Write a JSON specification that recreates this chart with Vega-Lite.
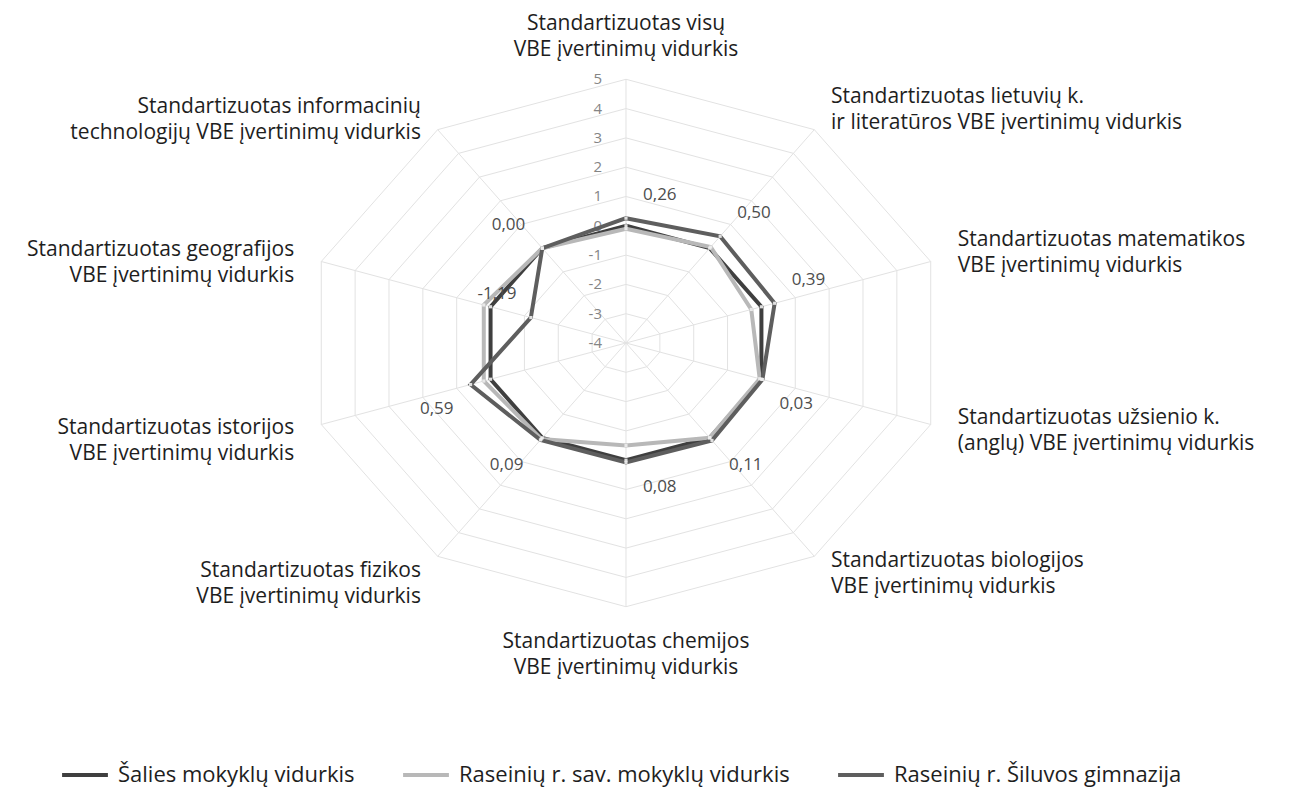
{
  "$schema": "https://vega.github.io/schema/vega-lite/v6.json",
  "width": 1301,
  "height": 794,
  "autosize": {"type": "none"},
  "padding": 0,
  "background": "white",
  "config": {
    "view": {"stroke": null},
    "font": "Open Sans",
    "locale": {"number": {"decimal": ",", "thousands": " ", "grouping": [3], "currency": ["", ""], "minus": "-"}}
  },
  "datasets": {
    "scores": [
      {"subject": "Standartizuotas visų\nVBE įvertinimų vidurkis", "series": "Šalies mokyklų vidurkis", "value": 0},
      {"subject": "Standartizuotas lietuvių k.\nir literatūros VBE įvertinimų vidurkis", "series": "Šalies mokyklų vidurkis", "value": 0},
      {"subject": "Standartizuotas matematikos\nVBE įvertinimų vidurkis", "series": "Šalies mokyklų vidurkis", "value": 0},
      {"subject": "Standartizuotas užsienio k.\n(anglų) VBE įvertinimų vidurkis", "series": "Šalies mokyklų vidurkis", "value": 0},
      {"subject": "Standartizuotas biologijos\nVBE įvertinimų vidurkis", "series": "Šalies mokyklų vidurkis", "value": 0},
      {"subject": "Standartizuotas chemijos\nVBE įvertinimų vidurkis", "series": "Šalies mokyklų vidurkis", "value": 0},
      {"subject": "Standartizuotas fizikos\nVBE įvertinimų vidurkis", "series": "Šalies mokyklų vidurkis", "value": 0},
      {"subject": "Standartizuotas istorijos\nVBE įvertinimų vidurkis", "series": "Šalies mokyklų vidurkis", "value": 0},
      {"subject": "Standartizuotas geografijos\nVBE įvertinimų vidurkis", "series": "Šalies mokyklų vidurkis", "value": 0},
      {"subject": "Standartizuotas informacinių\ntechnologijų VBE įvertinimų vidurkis", "series": "Šalies mokyklų vidurkis", "value": 0},
      {"subject": "Standartizuotas visų\nVBE įvertinimų vidurkis", "series": "Raseinių r. sav. mokyklų vidurkis", "value": -0.1},
      {"subject": "Standartizuotas lietuvių k.\nir literatūros VBE įvertinimų vidurkis", "series": "Raseinių r. sav. mokyklų vidurkis", "value": 0.05},
      {"subject": "Standartizuotas matematikos\nVBE įvertinimų vidurkis", "series": "Raseinių r. sav. mokyklų vidurkis", "value": -0.3},
      {"subject": "Standartizuotas užsienio k.\n(anglų) VBE įvertinimų vidurkis", "series": "Raseinių r. sav. mokyklų vidurkis", "value": -0.05},
      {"subject": "Standartizuotas biologijos\nVBE įvertinimų vidurkis", "series": "Raseinių r. sav. mokyklų vidurkis", "value": 0.0},
      {"subject": "Standartizuotas chemijos\nVBE įvertinimų vidurkis", "series": "Raseinių r. sav. mokyklų vidurkis", "value": -0.5},
      {"subject": "Standartizuotas fizikos\nVBE įvertinimų vidurkis", "series": "Raseinių r. sav. mokyklų vidurkis", "value": 0.05},
      {"subject": "Standartizuotas istorijos\nVBE įvertinimų vidurkis", "series": "Raseinių r. sav. mokyklų vidurkis", "value": 0.2},
      {"subject": "Standartizuotas geografijos\nVBE įvertinimų vidurkis", "series": "Raseinių r. sav. mokyklų vidurkis", "value": 0.2},
      {"subject": "Standartizuotas informacinių\ntechnologijų VBE įvertinimų vidurkis", "series": "Raseinių r. sav. mokyklų vidurkis", "value": 0.0},
      {"subject": "Standartizuotas visų\nVBE įvertinimų vidurkis", "series": "Raseinių r. Šiluvos gimnazija", "value": 0.26},
      {"subject": "Standartizuotas lietuvių k.\nir literatūros VBE įvertinimų vidurkis", "series": "Raseinių r. Šiluvos gimnazija", "value": 0.5},
      {"subject": "Standartizuotas matematikos\nVBE įvertinimų vidurkis", "series": "Raseinių r. Šiluvos gimnazija", "value": 0.39},
      {"subject": "Standartizuotas užsienio k.\n(anglų) VBE įvertinimų vidurkis", "series": "Raseinių r. Šiluvos gimnazija", "value": 0.03},
      {"subject": "Standartizuotas biologijos\nVBE įvertinimų vidurkis", "series": "Raseinių r. Šiluvos gimnazija", "value": 0.11},
      {"subject": "Standartizuotas chemijos\nVBE įvertinimų vidurkis", "series": "Raseinių r. Šiluvos gimnazija", "value": 0.08},
      {"subject": "Standartizuotas fizikos\nVBE įvertinimų vidurkis", "series": "Raseinių r. Šiluvos gimnazija", "value": 0.09},
      {"subject": "Standartizuotas istorijos\nVBE įvertinimų vidurkis", "series": "Raseinių r. Šiluvos gimnazija", "value": 0.59},
      {"subject": "Standartizuotas geografijos\nVBE įvertinimų vidurkis", "series": "Raseinių r. Šiluvos gimnazija", "value": -1.19},
      {"subject": "Standartizuotas informacinių\ntechnologijų VBE įvertinimų vidurkis", "series": "Raseinių r. Šiluvos gimnazija", "value": 0.0}
    ],
    "ticks": [
      {"t": -4}, {"t": -3}, {"t": -2}, {"t": -1}, {"t": 0}, {"t": 1}, {"t": 2}, {"t": 3}, {"t": 4}, {"t": 5}
    ]
  },
  "encoding": {
    "x": {"field": "x", "type": "quantitative", "scale": {"domain": [-17.584, 18.961], "nice": false, "zero": false}, "axis": null},
    "y": {"field": "y", "type": "quantitative", "scale": {"domain": [-15.392, 11.706], "nice": false, "zero": false}, "axis": null}
  },
  "layer": [
    {
      "data": {"name": "ticks"},
      "transform": [
        {"filter": "datum.t > -4"},
        {"calculate": "[0,1,2,3,4,5,6,7,8,9]", "as": "k"},
        {"flatten": ["k"]},
        {"calculate": "datum.k * PI / 5", "as": "a"},
        {"calculate": "(datum.t + 4) * sin(datum.a)", "as": "x"},
        {"calculate": "(datum.t + 4) * cos(datum.a)", "as": "y"}
      ],
      "mark": {"type": "line", "interpolate": "linear-closed", "stroke": "#e2e2e2", "strokeWidth": 1},
      "encoding": {
        "detail": {"field": "t", "type": "nominal"},
        "order": {"field": "k", "type": "quantitative"}
      }
    },
    {
      "data": {"name": "scores"},
      "transform": [
        {"window": [{"op": "row_number", "as": "n"}], "groupby": ["series"]},
        {"filter": "datum.series === 'Šalies mokyklų vidurkis'"},
        {"calculate": "(datum.n - 1) * PI / 5", "as": "a"},
        {"calculate": "0", "as": "x"},
        {"calculate": "0", "as": "y"},
        {"calculate": "9 * sin(datum.a)", "as": "xe"},
        {"calculate": "9 * cos(datum.a)", "as": "ye"}
      ],
      "mark": {"type": "rule", "stroke": "#e2e2e2", "strokeWidth": 1},
      "encoding": {
        "x2": {"field": "xe"},
        "y2": {"field": "ye"}
      }
    },
    {
      "data": {"name": "ticks"},
      "transform": [
        {"calculate": "0", "as": "x"},
        {"calculate": "datum.t + 4", "as": "y"},
        {"calculate": "'' + datum.t", "as": "lab"}
      ],
      "mark": {"type": "text", "align": "right", "baseline": "middle", "dx": -24, "fontSize": 15, "color": "#858585", "font": "Open Sans"},
      "encoding": {
        "text": {"field": "lab", "type": "nominal"}
      }
    },
    {
      "data": {"name": "scores"},
      "transform": [
        {"window": [{"op": "row_number", "as": "n"}], "groupby": ["series"]},
        {"calculate": "(datum.n - 1) * PI / 5", "as": "a"},
        {"calculate": "(datum.value + 4) * sin(datum.a)", "as": "x"},
        {"calculate": "(datum.value + 4) * cos(datum.a)", "as": "y"}
      ],
      "mark": {"type": "line", "interpolate": "linear-closed", "strokeWidth": 4, "strokeJoin": "miter"},
      "encoding": {
        "order": {"field": "n", "type": "quantitative"},
        "color": {
          "field": "series",
          "type": "nominal",
          "scale": {
            "domain": ["Šalies mokyklų vidurkis", "Raseinių r. sav. mokyklų vidurkis", "Raseinių r. Šiluvos gimnazija"],
            "range": ["#3f3f3f", "#b8b8b8", "#5e5e5e"]
          },
          "legend": {
            "title": null,
            "orient": "none",
            "legendX": 60,
            "legendY": 750,
            "direction": "horizontal",
            "symbolType": "stroke",
            "symbolSize": 2100,
            "symbolStrokeWidth": 4,
            "labelFont": "Open Sans",
            "labelFontSize": 22,
            "labelColor": "#1e1e1e",
            "labelOffset": 8,
            "columnPadding": 40,
            "labelLimit": 500
          }
        }
      }
    },
    {
      "data": {"name": "scores"},
      "transform": [
        {"window": [{"op": "row_number", "as": "n"}], "groupby": ["series"]},
        {"calculate": "(datum.n - 1) * PI / 5", "as": "a"},
        {"calculate": "(datum.value + 4) * sin(datum.a)", "as": "x"},
        {"calculate": "(datum.value + 4) * cos(datum.a)", "as": "y"}
      ],
      "mark": {"type": "point", "shape": "square", "size": 10, "filled": true, "fill": "#eeeeee", "opacity": 0.9}
    },
    {
      "data": {"name": "scores"},
      "transform": [
        {"window": [{"op": "row_number", "as": "n"}], "groupby": ["series"]},
        {"filter": "datum.series === 'Raseinių r. Šiluvos gimnazija'"},
        {"calculate": "(datum.n - 1) * PI / 5", "as": "a"},
        {"calculate": "(datum.value + 4) * sin(datum.a) + (sin(datum.a) > -0.001 ? 0.95 : -0.95)", "as": "x"},
        {"calculate": "(datum.value + 4) * cos(datum.a) + (cos(datum.a) > -0.001 ? 0.8 : -0.85)", "as": "y"}
      ],
      "mark": {"type": "text", "align": "center", "baseline": "middle", "fontSize": 17, "color": "#4d4d4d", "font": "Open Sans"},
      "encoding": {
        "text": {"field": "value", "type": "quantitative", "format": ".2f"}
      }
    },
    {
      "data": {"name": "scores"},
      "transform": [
        {"window": [{"op": "row_number", "as": "n"}], "groupby": ["series"]},
        {"filter": "datum.series === 'Šalies mokyklų vidurkis'"},
        {"calculate": "(datum.n - 1) * PI / 5", "as": "a"},
        {"filter": "sin(datum.a) > 0.01"},
        {"calculate": "9.8 * sin(datum.a)", "as": "x"},
        {"calculate": "9.8 * cos(datum.a)", "as": "y"}
      ],
      "mark": {"type": "text", "align": "left", "baseline": "middle", "dy": -14, "fontSize": 21, "lineHeight": 26, "lineBreak": "\n", "color": "#1e1e1e", "font": "Open Sans"},
      "encoding": {
        "text": {"field": "subject", "type": "nominal"}
      }
    },
    {
      "data": {"name": "scores"},
      "transform": [
        {"window": [{"op": "row_number", "as": "n"}], "groupby": ["series"]},
        {"filter": "datum.series === 'Šalies mokyklų vidurkis'"},
        {"calculate": "(datum.n - 1) * PI / 5", "as": "a"},
        {"filter": "sin(datum.a) < -0.01"},
        {"calculate": "9.8 * sin(datum.a)", "as": "x"},
        {"calculate": "9.8 * cos(datum.a)", "as": "y"}
      ],
      "mark": {"type": "text", "align": "right", "baseline": "middle", "dy": -4, "fontSize": 21, "lineHeight": 26, "lineBreak": "\n", "color": "#1e1e1e", "font": "Open Sans"},
      "encoding": {
        "text": {"field": "subject", "type": "nominal"}
      }
    },
    {
      "data": {"name": "scores"},
      "transform": [
        {"window": [{"op": "row_number", "as": "n"}], "groupby": ["series"]},
        {"filter": "datum.series === 'Šalies mokyklų vidurkis'"},
        {"calculate": "(datum.n - 1) * PI / 5", "as": "a"},
        {"filter": "abs(sin(datum.a)) <= 0.01"},
        {"calculate": "10.55 * sin(datum.a)", "as": "x"},
        {"calculate": "10.55 * cos(datum.a)", "as": "y"}
      ],
      "mark": {"type": "text", "align": "center", "baseline": "middle", "dy": -10, "fontSize": 21, "lineHeight": 26, "lineBreak": "\n", "color": "#1e1e1e", "font": "Open Sans"},
      "encoding": {
        "text": {"field": "subject", "type": "nominal"}
      }
    }
  ]
}
